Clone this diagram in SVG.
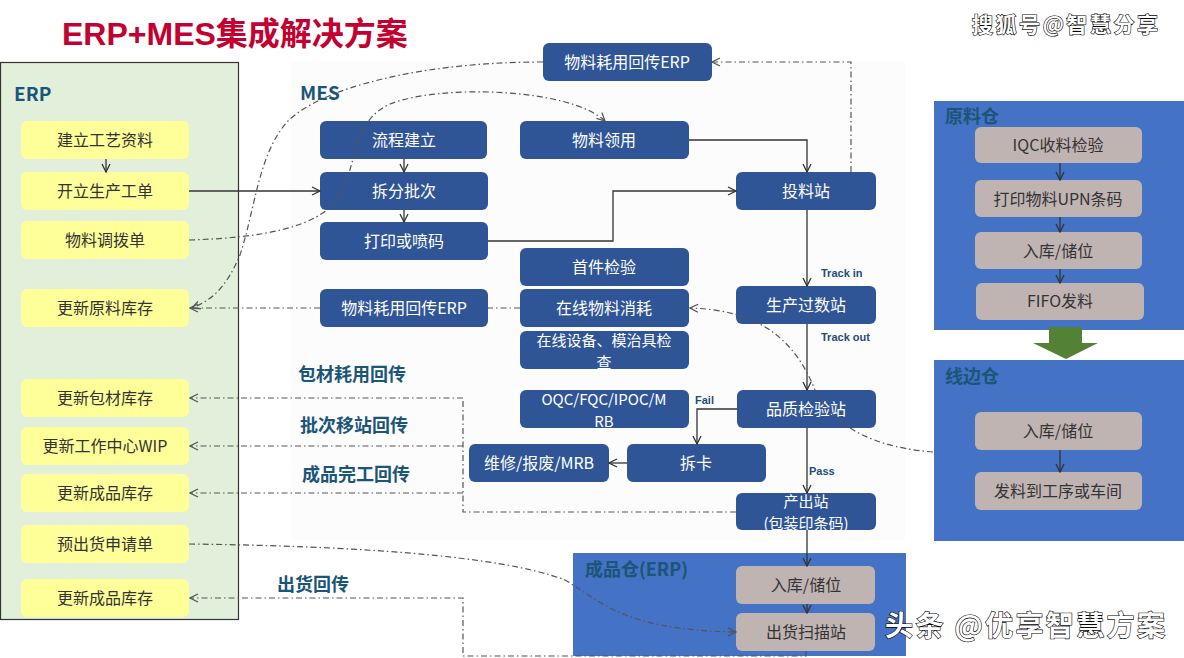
<svg xmlns="http://www.w3.org/2000/svg" width="1184" height="658" viewBox="0 0 1184 658">
<defs>
<style>
.t{font-family:"Noto Sans CJK SC","Liberation Sans",sans-serif;font-size:16px;text-anchor:middle;dominant-baseline:central}
.t2{font-size:15px}
.w{fill:#ffffff}
.d{fill:#333333}
.yb{fill:#FFFF99}
.bb{fill:#2F5597}
.gb{fill:#C0B4B3}
.hd{font-family:"Noto Sans CJK SC","Liberation Sans",sans-serif;font-weight:bold;fill:#1B5577}
.lb{font-family:"Liberation Sans","Noto Sans CJK SC",sans-serif;font-weight:bold;font-size:11px;fill:#1F4E79}
.s{fill:none;stroke:#333;stroke-width:1.3}
.dd{fill:none;stroke:#555;stroke-width:1.2;stroke-dasharray:6 3 1.5 3}
.wm{font-family:"Noto Sans CJK SC",sans-serif;fill:#fff;stroke:#000;stroke-width:1.2;paint-order:stroke;font-weight:bold}
</style>
<marker id="a" viewBox="0 0 10 10" refX="9" refY="5" markerWidth="10" markerHeight="10" markerUnits="userSpaceOnUse" orient="auto"><path d="M1,1 L9,5 L1,9" fill="none" stroke="#333" stroke-width="1.3"/></marker>
<marker id="g" viewBox="0 0 10 10" refX="9" refY="5" markerWidth="10" markerHeight="10" markerUnits="userSpaceOnUse" orient="auto"><path d="M1,1 L9,5 L1,9" fill="none" stroke="#555" stroke-width="1.3"/></marker>
</defs>
<rect width="1184" height="658" fill="#ffffff"/>
<rect x="290" y="62" width="615" height="478" fill="#fcfcfc"/>

<text x="62" y="45" font-family="'Liberation Sans','Noto Sans CJK SC',sans-serif" font-weight="bold" font-size="32" fill="#C3002F">ERP+MES<tspan font-family="'Noto Sans CJK SC',sans-serif">集成解决方案</tspan></text>
<text class="wm" x="972" y="32" font-size="21" textLength="186">搜狐号@智慧分享</text>

<!-- ERP panel -->
<g id="erp-panel">
<rect x="0.5" y="62.5" width="238" height="557" fill="#E2EFDA" stroke="#333" stroke-width="1.2"/>
<text class="hd" x="14" y="101" font-size="19">ERP</text>
</g>
<g id="e1"><rect class="yb" x="21" y="121" width="168" height="38" rx="6"/><text class="t d" x="105" y="139">建立工艺资料</text></g>
<g id="e2"><rect class="yb" x="21" y="172" width="168" height="38" rx="6"/><text class="t d" x="105" y="190">开立生产工单</text></g>
<g id="e3"><rect class="yb" x="21" y="221" width="168" height="38" rx="6"/><text class="t d" x="105" y="239">物料调拨单</text></g>
<g id="e4"><rect class="yb" x="21" y="289" width="168" height="38" rx="6"/><text class="t d" x="105" y="307">更新原料库存</text></g>
<g id="e5"><rect class="yb" x="21" y="379" width="168" height="38" rx="6"/><text class="t d" x="105" y="397">更新包材库存</text></g>
<g id="e6"><rect class="yb" x="21" y="427" width="168" height="38" rx="6"/><text class="t d" x="105" y="445">更新工作中心WIP</text></g>
<g id="e7"><rect class="yb" x="21" y="474" width="168" height="38" rx="6"/><text class="t d" x="105" y="492">更新成品库存</text></g>
<g id="e8"><rect class="yb" x="21" y="525" width="168" height="38" rx="6"/><text class="t d" x="105" y="543">预出货申请单</text></g>
<g id="e9"><rect class="yb" x="21" y="579" width="168" height="38" rx="6"/><text class="t d" x="105" y="597">更新成品库存</text></g>

<!-- MES -->
<text class="hd" x="300" y="100" font-size="19">MES</text>
<g id="m1"><rect class="bb" x="320" y="121" width="167" height="38" rx="6"/><text class="t w" x="404" y="139">流程建立</text></g>
<g id="m2"><rect class="bb" x="320" y="172" width="168" height="38" rx="6"/><text class="t w" x="404" y="190">拆分批次</text></g>
<g id="m3"><rect class="bb" x="320" y="222" width="168" height="38" rx="6"/><text class="t w" x="404" y="240">打印或喷码</text></g>
<g id="m4"><rect class="bb" x="320" y="289" width="168" height="38" rx="6"/><text class="t w" x="404" y="307">物料耗用回传ERP</text></g>
<g id="m5"><rect class="bb" x="520" y="121" width="169" height="38" rx="6"/><text class="t w" x="604" y="139">物料领用</text></g>
<g id="m6"><rect class="bb" x="520" y="248" width="169" height="38" rx="6"/><text class="t w" x="604" y="266">首件检验</text></g>
<g id="m7"><rect class="bb" x="520" y="289" width="169" height="38" rx="6"/><text class="t w" x="604" y="307">在线物料消耗</text></g>
<g id="m8"><rect class="bb" x="520" y="331" width="169" height="38" rx="6"/><text class="t t2 w"><tspan x="604" y="339">在线设备、模治具检</tspan><tspan x="604" y="361">查</tspan></text></g>
<g id="m9"><rect class="bb" x="520" y="390" width="169" height="38" rx="6"/><text class="t t2 w"><tspan x="604" y="398">OQC/FQC/IPOC/M</tspan><tspan x="604" y="420">RB</tspan></text></g>
<g id="m10"><rect class="bb" x="469" y="444" width="140" height="38" rx="6"/><text class="t w" x="539" y="462">维修/报废/MRB</text></g>
<g id="m11"><rect class="bb" x="627" y="444" width="139" height="38" rx="6"/><text class="t w" x="696" y="462">拆卡</text></g>
<g id="m12"><rect class="bb" x="543" y="43" width="169" height="38" rx="6"/><text class="t w" x="627" y="61">物料耗用回传ERP</text></g>
<g id="m13"><rect class="bb" x="736" y="172" width="140" height="38" rx="6"/><text class="t w" x="806" y="190">投料站</text></g>
<g id="m14"><rect class="bb" x="736" y="286" width="140" height="38" rx="6"/><text class="t w" x="806" y="304">生产过数站</text></g>
<g id="m15"><rect class="bb" x="737" y="390" width="139" height="38" rx="6"/><text class="t w" x="806" y="408">品质检验站</text></g>
<g id="m16"><rect class="bb" x="736" y="493" width="140" height="37" rx="6"/><text class="t t2 w"><tspan x="806" y="500">产出站</tspan><tspan x="806" y="522">(包装印条码)</tspan></text></g>

<!-- Right panels -->
<g id="raw">
<rect x="934" y="101" width="250" height="229" fill="#4472C4"/>
<text class="hd" x="945" y="123" font-size="18">原料仓</text>
</g>
<g id="r1"><rect class="gb" x="975" y="127" width="167" height="36" rx="6"/><text class="t d" x="1058" y="144">IQC收料检验</text></g>
<g id="r2"><rect class="gb" x="975" y="180" width="167" height="37" rx="6"/><text class="t d" x="1058" y="198">打印物料UPN条码</text></g>
<g id="r3"><rect class="gb" x="975" y="232" width="167" height="37" rx="6"/><text class="t d" x="1058" y="250">入库/储位</text></g>
<g id="r4"><rect class="gb" x="976" y="283" width="168" height="37" rx="6"/><text class="t d" x="1060" y="300">FIFO发料</text></g>
<g id="bigarrow"><polygon points="1049,327 1082,327 1082,343 1098,343 1066,359 1033,343 1049,343" fill="#548235"/></g>
<g id="line">
<rect x="934" y="360" width="250" height="181" fill="#4472C4"/>
<text class="hd" x="945" y="383" font-size="18">线边仓</text>
</g>
<g id="l1"><rect class="gb" x="975" y="412" width="167" height="38" rx="6"/><text class="t d" x="1058" y="430">入库/储位</text></g>
<g id="l2"><rect class="gb" x="975" y="472" width="167" height="38" rx="6"/><text class="t d" x="1058" y="490">发料到工序或车间</text></g>
<g id="fg">
<rect x="573" y="553" width="333" height="103" fill="#4472C4"/>
<text class="hd" x="585" y="576" font-size="18">成品仓(ERP)</text>
</g>
<g id="f1"><rect class="gb" x="736" y="566" width="139" height="38" rx="6"/><text class="t d" x="806" y="584">入库/储位</text></g>
<g id="f2"><rect class="gb" x="736" y="613" width="139" height="38" rx="6"/><text class="t d" x="806" y="631">出货扫描站</text></g>

<!-- labels -->
<g id="labels">
<text class="hd" x="298" y="381" font-size="18">包材耗用回传</text>
<text class="hd" x="300" y="432" font-size="18">批次移站回传</text>
<text class="hd" x="302" y="481" font-size="18">成品完工回传</text>
<text class="hd" x="277" y="591" font-size="18">出货回传</text>
<text class="lb" x="821" y="277">Track in</text>
<text class="lb" x="821" y="341">Track out</text>
<text class="lb" x="695" y="404">Fail</text>
<text class="lb" x="809" y="475">Pass</text>
</g>

<g id="connectors">
<!-- solid -->
<path class="s" d="M106,159 V172" marker-end="url(#a)"/>
<path class="s" d="M189,191 H320" marker-end="url(#a)"/>
<path class="s" d="M404,159 V172" marker-end="url(#a)"/>
<path class="s" d="M404,210 V222" marker-end="url(#a)"/>
<path class="s" d="M689,140 H807 V172" marker-end="url(#a)"/>
<path class="s" d="M488,241 H613 V191 H736" marker-end="url(#a)"/>
<path class="s" d="M807,210 V286" marker-end="url(#a)"/>
<path class="s" d="M807,324 V390" marker-end="url(#a)"/>
<path class="s" d="M737,409 H697 V444" marker-end="url(#a)"/>
<path class="s" d="M627,463 H609" marker-end="url(#a)"/>
<path class="s" d="M807,428 V493" marker-end="url(#a)"/>
<path class="s" d="M807,530 V566" marker-end="url(#a)"/>
<path class="s" d="M807,604 V613" marker-end="url(#a)"/>
<path class="s" d="M1060,163 V180" marker-end="url(#a)"/>
<path class="s" d="M1060,217 V232" marker-end="url(#a)"/>
<path class="s" d="M1060,269 V283" marker-end="url(#a)"/>
<path class="s" d="M1060,450 V472" marker-end="url(#a)"/>
<!-- dash-dot -->
<path class="dd" d="M851,172 V62 H712" marker-end="url(#g)"/>
<path class="dd" d="M543,62 C420,62 320,88 287,122 C258,155 255,210 240,255 C226,288 212,300 192,308" marker-end="url(#g)"/>
<path class="dd" d="M189,240 C260,238 318,228 338,198 C358,168 350,122 390,104 C440,84 570,88 605,121" marker-end="url(#g)"/>
<path class="dd" d="M520,308 H488"/>
<path class="dd" d="M320,308 H190" marker-end="url(#g)"/>
<path class="dd" d="M933,452 C880,448 835,430 815,390 C795,340 760,310 690,308" marker-end="url(#g)"/>
<path class="dd" d="M736,512 H463 V398"/>
<path class="dd" d="M463,398 H190" marker-end="url(#g)"/>
<path class="dd" d="M463,446 H190" marker-end="url(#g)"/>
<path class="dd" d="M463,493 H190" marker-end="url(#g)"/>
<path class="dd" d="M806,651 V656 H463 V598 H190" marker-end="url(#g)"/>
<path class="dd" d="M189,544 C350,546 500,555 565,580 C600,600 620,630 736,632" marker-end="url(#g)"/>
</g>

<text class="wm" x="885" y="636" font-size="28" textLength="280" font-weight="normal">头条 @优享智慧方案</text>
</svg>
